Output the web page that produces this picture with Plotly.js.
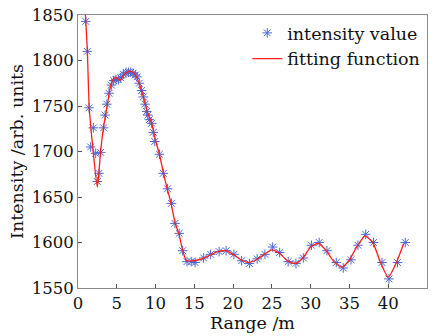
<!DOCTYPE html>
<html>
<head>
<meta charset="utf-8">
<script src="https://cdn.plot.ly/plotly-3.0.1.min.js"></script>
<style>html,body{margin:0;padding:0;background:#fff;}#chart{width:437px;height:336px;}</style>
</head>
<body>
<div id="chart"></div>
<script>
// measured intensity values (stars)
const rangeX = [1.0,1.2,1.42,1.63,1.98,2.28,2.49,2.7,2.92,3.3,3.5,3.72,4.0,4.3,4.6,4.9,5.2,5.5,5.85,6.2,6.5,6.8,7.1,7.4,7.6,7.9,8.2,8.42,8.65,8.85,9.0,9.2,9.5,9.7,9.9,10.5,11.0,11.55,12.05,12.5,13.05,13.5,14.05,14.6,15.1,16.2,17.1,18.2,19.1,20.1,21.1,22.1,23.1,24.1,25.1,26.0,27.1,28.1,29.05,30.1,31.1,32.1,33.3,34.2,35.2,36.1,37.1,38.1,39.2,40.1,41.2,42.2];
const intensity = [1843,1810,1748,1705,1726,1698,1667,1676,1699,1726,1740,1752,1764,1773,1778,1779,1779,1781,1785,1787,1787,1787,1786,1784,1782,1775,1767,1760,1752,1744,1740,1735,1731,1721,1711,1697,1676,1659,1643,1621,1610,1591,1579,1579,1578,1583,1587,1590,1591,1587,1580,1577,1582,1587,1595,1589,1579,1577,1583,1597,1600,1591,1578,1572,1581,1597,1609,1600,1578,1560,1578,1600];
// fitting function
const fitX = [0.95,1.2,1.45,1.9,2.5,2.9,3.3,3.8,4.2,4.6,5.0,5.4,5.9,6.5,7.1,7.6,8.0,8.5,9.0,9.5,10.0,10.5,11.0,11.5,12.0,12.5,13.0,13.5,14.0,15.0,16,17,18,19,20,21,22,23,24,25,26,27,28,29,30,31,32,33,34,35,36,37,38,39,40,41,42];
const fitY = [1850,1812,1748,1705,1661,1699,1727,1752,1772,1780,1781,1778,1784,1788,1787,1781,1772,1758,1742,1731,1712,1697,1677,1659,1643,1622,1610,1591,1580,1580,1582,1586,1590,1591,1587,1581,1578,1581,1587,1592,1588,1580,1577,1583,1595,1599,1591,1579,1573,1581,1596,1607,1600,1578,1562,1577,1599];
const xTicks = [0,5,10,15,20,25,30,35,40,45];
const yTicks = [1550,1600,1650,1700,1750,1800,1850];

const fontFam = 'DejaVu Serif, serif';
const traces = [
  {x: rangeX, y: intensity, type: 'scatter', mode: 'markers', name: 'intensity value',
   marker: {symbol: 'asterisk-open', size: 8, color: 'rgb(75,105,210)', line: {color: 'rgb(75,105,210)', width: 1}}},
  {x: fitX, y: fitY, type: 'scatter', mode: 'lines', name: 'fitting function',
   line: {color: 'rgb(255,30,30)', width: 1.3, shape: 'spline', smoothing: 0.6}}
];
const axisCommon = {showgrid: false, zeroline: false, showline: true, mirror: true,
  linecolor: '#8a8a8a', linewidth: 1, ticks: 'inside', ticklen: 4, tickcolor: '#555',
  tickfont: {family: fontFam, size: 16.5, color: '#111'}};
const layout = {
  width: 437, height: 336,
  margin: {l: 78, r: 10, t: 15, b: 48},
  paper_bgcolor: '#fff', plot_bgcolor: '#fff',
  font: {family: fontFam, color: '#111'},
  xaxis: Object.assign({}, axisCommon, {range: [0,45], tickvals: xTicks, ticktext: xTicks.map(String),
    title: {text: 'Range /m', font: {family: fontFam, size: 17.5}, standoff: 2}}),
  yaxis: Object.assign({}, axisCommon, {range: [1550,1850], tickvals: yTicks, ticktext: yTicks.map(String),
    title: {text: 'Intensity /arb. units', font: {family: fontFam, size: 17.5}, standoff: 3}}),
  legend: {x: 0.995, xanchor: 'right', y: 1, yanchor: 'top', bgcolor: 'rgba(0,0,0,0)', borderwidth: 0,
    font: {family: fontFam, size: 17.5}, itemwidth: 30, tracegroupgap: 0},
  showlegend: true
};
Plotly.newPlot('chart', traces, layout, {staticPlot: true, displayModeBar: false});
</script>
</body>
</html>
